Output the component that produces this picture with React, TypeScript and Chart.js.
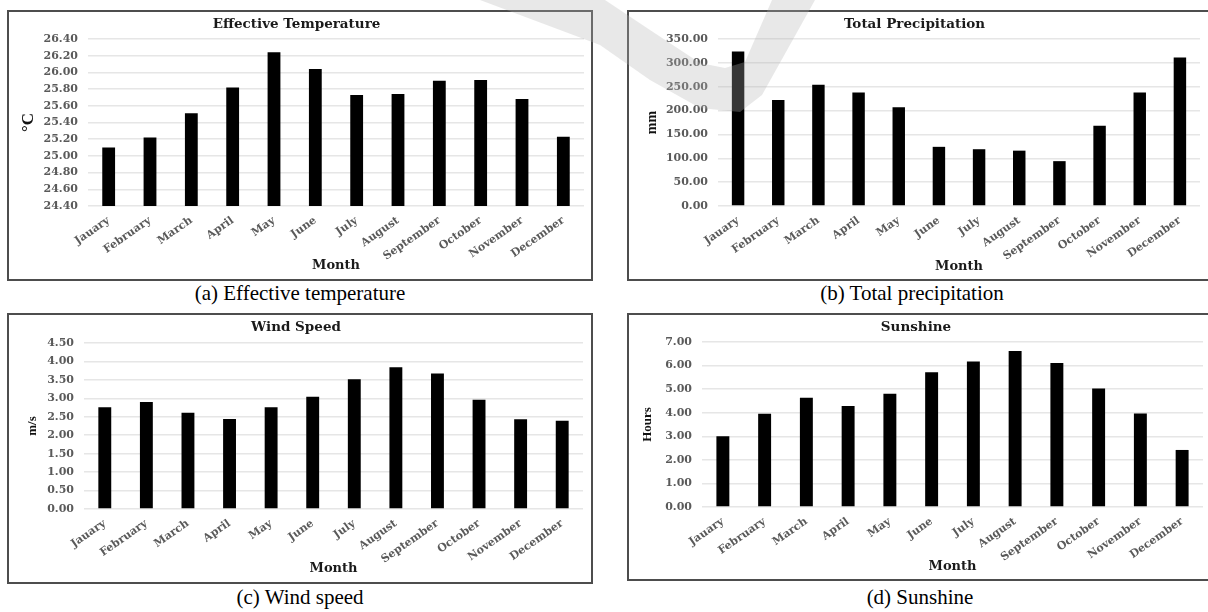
import React, { useEffect, useRef } from "react";
import { Chart, registerables } from "chart.js";

Chart.register(...registerables);

// ---------- data ----------
const months = [
  "Jauary", "February", "March", "April", "May", "June",
  "July", "August", "September", "October", "November", "December",
];
const effectiveTemperature = [25.10, 25.22, 25.51, 25.82, 26.24, 26.04, 25.73, 25.74, 25.90, 25.91, 25.68, 25.23];
const totalPrecipitation = [324, 222, 254, 238, 207, 124, 119, 116, 94, 168, 238, 311];
const windSpeed = [2.76, 2.90, 2.61, 2.44, 2.76, 3.04, 3.52, 3.84, 3.67, 2.96, 2.43, 2.39];
const sunshine = [3.00, 3.96, 4.63, 4.28, 4.80, 5.72, 6.17, 6.62, 6.11, 5.03, 3.97, 2.42];

const tempAxis = [24.4, 26.4, 0.2];
const precipAxis = [0, 350, 50];
const windAxis = [0, 4.5, 0.5];
const sunAxis = [0, 7, 1];

const chartTitles = ["Effective Temperature", "Total Precipitation", "Wind Speed", "Sunshine"];
const yTitles = ["\u00B0C", "mm", "m/s", "Hours"];
const xTitle = "Month";
const captions = ["(a) Effective temperature", "(b) Total precipitation", "(c) Wind speed", "(d) Sunshine"];

// ---------- layout ----------
type PanelCfg = {
  left: number; top: number; w: number; h: number;
  plotLeft: number; plotRight: number; plotTop: number; plotBottom: number;
  titleY: number; yTitleX: number; yTitleSize: number; monthFromBottom: number;
};

const panelA: PanelCfg = { left: 7, top: 10, w: 582, h: 267, plotLeft: 79, plotRight: 575, plotTop: 27, plotBottom: 194, titleY: 12, yTitleX: 20, yTitleSize: 17, monthFromBottom: 13 };
const panelB: PanelCfg = { left: 627, top: 10, w: 582, h: 267, plotLeft: 89, plotRight: 571, plotTop: 27, plotBottom: 194, titleY: 12, yTitleX: 23, yTitleSize: 14, monthFromBottom: 12 };
const panelC: PanelCfg = { left: 7, top: 313, w: 582, h: 267, plotLeft: 75, plotRight: 574, plotTop: 28, plotBottom: 194, titleY: 12, yTitleX: 24, yTitleSize: 13, monthFromBottom: 13 };
const panelD: PanelCfg = { left: 627, top: 313, w: 582, h: 264, plotLeft: 73, plotRight: 574, plotTop: 27, plotBottom: 192, titleY: 12, yTitleX: 19, yTitleSize: 13, monthFromBottom: 12 };

const serif = "'DejaVu Serif', serif";

function Panel(props: { cfg: PanelCfg; title: string; yTitle: string; values: number[]; axis: number[] }) {
  const ref = useRef<HTMLCanvasElement>(null);
  const { cfg } = props;
  useEffect(() => {
    const tSize = 13.5;
    const titleLH = tSize * 1.2;
    const mLH = 13 * 1.2;
    const yLH = cfg.yTitleSize * 1.2;
    const chart = new Chart(ref.current as HTMLCanvasElement, {
      type: "bar",
      data: {
        labels: months,
        datasets: [
          {
            data: props.values,
            backgroundColor: "#000000",
            borderWidth: 0,
            barPercentage: 0.31,
            categoryPercentage: 1,
          },
        ],
      },
      options: {
        animation: false,
        responsive: false,
        devicePixelRatio: 1,
        layout: { padding: { left: 0, top: 0, bottom: 0, right: cfg.w - cfg.plotRight } },
        plugins: {
          legend: { display: false },
          tooltip: { enabled: false },
          title: {
            display: true,
            text: props.title,
            color: "#1a1a1a",
            font: { family: serif, size: tSize, weight: "bold", lineHeight: 1.2 },
            padding: { top: cfg.titleY - titleLH / 2, bottom: cfg.plotTop - (cfg.titleY - titleLH / 2) - titleLH },
          },
        },
        scales: {
          x: {
            grid: { display: false, drawTicks: false },
            border: { display: false },
            ticks: {
              autoSkip: false,
              minRotation: 35,
              maxRotation: 35,
              color: "#5a5a5a",
              padding: 8,
              font: { family: serif, size: 11, weight: "bold" },
            },
            title: {
              display: true,
              text: xTitle,
              color: "#1a1a1a",
              font: { family: serif, size: 13, weight: "bold", lineHeight: 1.2 },
              padding: { top: 0, bottom: cfg.monthFromBottom - mLH / 2 },
            },
            afterFit: (s: any) => { s.height = cfg.h - cfg.plotBottom; },
          },
          y: {
            min: props.axis[0],
            max: props.axis[1],
            grid: { color: "#e6e6e6", lineWidth: 1.5, drawTicks: false },
            border: { display: false },
            ticks: {
              stepSize: props.axis[2],
              color: "#5a5a5a",
              padding: 10,
              font: { family: serif, size: 11, weight: "bold" },
              callback: (v: any) => Number(v).toFixed(2),
            },
            title: {
              display: true,
              text: props.yTitle,
              color: "#111111",
              font: { family: "'Liberation Serif', serif", size: cfg.yTitleSize, weight: "bold", lineHeight: 1.2 },
              padding: { top: cfg.yTitleX - yLH / 2, bottom: 0 },
            },
            afterFit: (s: any) => { s.width = cfg.plotLeft; },
          },
        },
      } as any,
    });
    return () => chart.destroy();
  }, []);
  return (
    <div
      style={{
        position: "absolute",
        left: cfg.left,
        top: cfg.top,
        width: cfg.w,
        height: cfg.h,
        border: "2px solid #4d4d4d",
        background: "#fff",
      }}
    >
      <canvas ref={ref} width={cfg.w} height={cfg.h} style={{ display: "block" }} />
    </div>
  );
}

function Caption(props: { text: string; cx: number; baseline: number }) {
  return (
    <div
      style={{
        position: "absolute",
        left: props.cx - 200,
        width: 400,
        top: props.baseline - 17.6,
        textAlign: "center",
        fontFamily: "'Liberation Serif', serif",
        fontSize: 21,
        lineHeight: "21px",
        color: "#000",
        whiteSpace: "nowrap",
      }}
    >
      {props.text}
    </div>
  );
}

export default function App() {
  return (
    <div
      style={{
        position: "fixed",
        left: 0,
        top: 0,
        width: 1208,
        height: 612,
        overflow: "hidden",
        background: "#fff",
      }}
    >
      <Panel cfg={panelA} title={chartTitles[0]} yTitle={yTitles[0]} values={effectiveTemperature} axis={tempAxis} />
      <Panel cfg={panelB} title={chartTitles[1]} yTitle={yTitles[1]} values={totalPrecipitation} axis={precipAxis} />
      <Panel cfg={panelC} title={chartTitles[2]} yTitle={yTitles[2]} values={windSpeed} axis={windAxis} />
      <Panel cfg={panelD} title={chartTitles[3]} yTitle={yTitles[3]} values={sunshine} axis={sunAxis} />
      <Caption text={captions[0]} cx={300} baseline={301} />
      <Caption text={captions[1]} cx={912} baseline={301} />
      <Caption text={captions[2]} cx={300} baseline={605} />
      <Caption text={captions[3]} cx={920} baseline={605} />
      <svg
        width={1208}
        height={612}
        style={{ position: "absolute", left: 0, top: 0, pointerEvents: "none" }}
      >
        <polygon
          points="480,0 600,45 650,80 700,108 740,112 762,95 815,0 772,0 745,62 725,68 700,63 650,30 605,0"
          fill="#b4b4b4"
          fillOpacity={0.3}
        />
      </svg>
    </div>
  );
}
